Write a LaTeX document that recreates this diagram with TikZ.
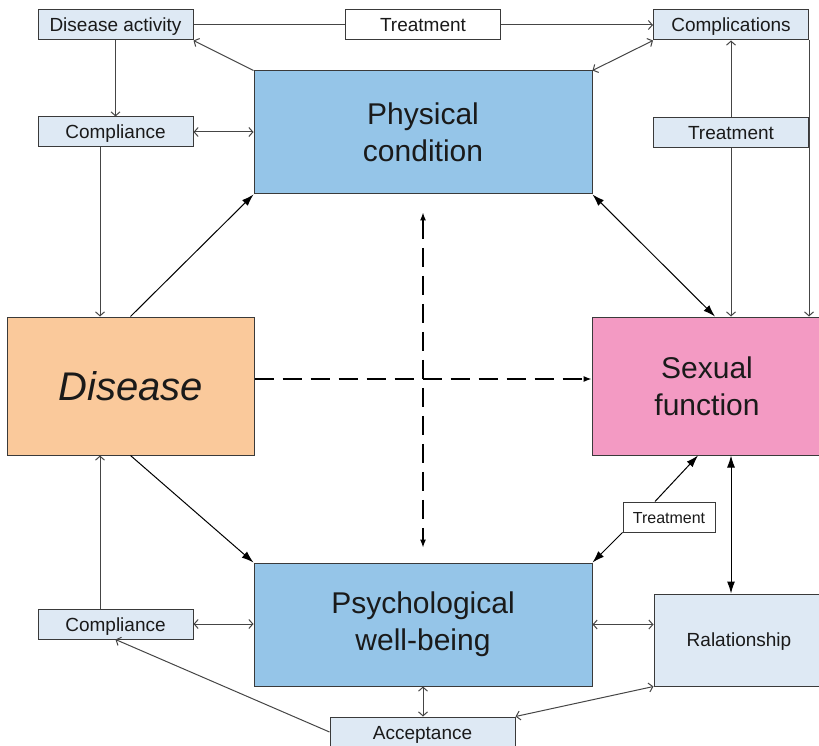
\documentclass[tikz,border=0pt]{standalone}
\usepackage{fontspec}
\setmainfont{Liberation Sans}
\usetikzlibrary{arrows.meta}
\definecolor{bd}{HTML}{3A3A3A}
\definecolor{lb}{HTML}{DEE9F4}
\definecolor{blu}{HTML}{95C5E8}
\definecolor{org}{HTML}{FAC99B}
\definecolor{pnk}{HTML}{F39AC3}
\definecolor{ln}{HTML}{454545}
\definecolor{tx}{HTML}{1A1A1A}
\tikzset{
  box/.style={draw=bd, line width=1pt, inner sep=0pt, text=tx, align=center},
  smallbox/.style={box, fill=lb, minimum width=155, minimum height=30, text height=14pt, text depth=0pt, font=\fontsize{19}{22}\selectfont},
  bigbox/.style={box, fill=blu, minimum width=338, minimum height=123, font=\fontsize{30}{37}\selectfont},
  conn/.style={draw=ln, line width=1pt},
  op/.style={conn, -{Straight Barb[length=4pt,width=9pt]}},
  opb/.style={conn, {Straight Barb[length=4pt,width=9pt]}-{Straight Barb[length=4pt,width=9pt]}},
  fl/.style={draw=black, line width=1pt, -{Latex[length=12pt,width=8pt]}},
  flb/.style={draw=black, line width=1pt, {Latex[length=12pt,width=8pt]}-{Latex[length=12pt,width=8pt]}},
  dsh/.style={draw=black, line width=1.1pt, dash pattern=on 19pt off 9pt},
}
\begin{document}
\begin{tikzpicture}[x=1pt,y=-1pt]
\useasboundingbox (0,0) rectangle (819,746);
\clip (0,0) rectangle (819,746);
% nodes
\node[smallbox] (dact) at (115.5,25) {Disease activity};
\node[smallbox, fill=white] (trT) at (423,25) {Treatment};
\node[smallbox] (cmpl) at (731,25) {Complications};
\node[smallbox] (comp1) at (115.5,132) {Compliance};
\node[smallbox] (trR) at (731,132.5) {Treatment};
\node[bigbox] (phys) at (423,132.5) {Physical\\condition};
\node[box, fill=org, minimum width=247, minimum height=138, font=\fontsize{40}{46}\selectfont\itshape] (dis) at (130.5,386) {Disease};
\node[box, fill=pnk, minimum width=230, minimum height=138, font=\fontsize{30}{37}\selectfont] (sex) at (707,386) {Sexual\\function};
\node[box, fill=white, minimum width=92, minimum height=30, text height=12pt, text depth=0pt, font=\fontsize{16}{19}\selectfont] (trS) at (669,517) {Treatment};
\node[bigbox] (psy) at (423,624.5) {Psychological\\well-being};
\node[smallbox] (comp2) at (115.5,624) {Compliance};
\node[box, fill=lb, minimum width=170, minimum height=92, text height=14pt, text depth=2pt, font=\fontsize{19}{22}\selectfont] (rel) at (739,640) {Ralationship};
\node[smallbox, minimum width=185] (acc) at (422.5,732) {Acceptance};
% connectors top
\draw[conn] (dact.east) -- (trT.west);
\draw[op] (trT.east) -- (cmpl.west);
\draw[op] (dact.south) -- (comp1.north);
\draw[op] (phys.north west) -- (dact.south east);
\draw[opb] (cmpl.south west) -- (phys.north east);
\draw[opb] (comp1.east) -- (comp1.east -| phys.west);
\draw[op] ([xshift=-15.5pt]comp1.south) -- ([xshift=-15.5pt]comp1.south |- dis.north);
\draw[fl] (dis.north) -- (phys.south west);
\draw[op] (trR.north) -- (cmpl.south);
\draw[op] (trR.south) -- (trR.south |- sex.north);
\draw[op] (cmpl.south east) -- (cmpl.south east |- sex.north);
\draw[flb] (phys.south east) -- ([xshift=8pt]sex.north);
% dashed
\draw[dsh, -{Latex[length=8pt,width=6pt]}] ([yshift=7pt]dis.east) -- ([yshift=7pt]dis.east -| sex.west);
\draw[dsh, {Latex[length=8pt,width=6pt]}-{Latex[length=8pt,width=6pt]}] ([yshift=-18pt]phys.south) -- ([yshift=15pt]psy.north);
% bottom
\draw[fl] (dis.south) -- (psy.north west);
\draw[op] ([xshift=-15.5pt]comp2.north) -- ([xshift=-15.5pt]comp2.north |- dis.south);
\draw[opb] (comp2.east) -- (comp2.east -| psy.west);
\draw[op] (acc.west) -- (comp2.south);
\draw[opb] (psy.south) -- (psy.south |- acc.north);
\draw[opb] (acc.north east) -- (rel.south west);
\draw[opb] (psy.east) -- (psy.east -| rel.west);
\draw[flb] (sex.south -| trR.south) -- (rel.north -| trR.south);
\draw[fl] ([xshift=-14pt]trS.north) -- ([xshift=-9pt]sex.south);
\draw[fl] (trS.south west) -- (psy.north east);
\end{tikzpicture}
\end{document}
